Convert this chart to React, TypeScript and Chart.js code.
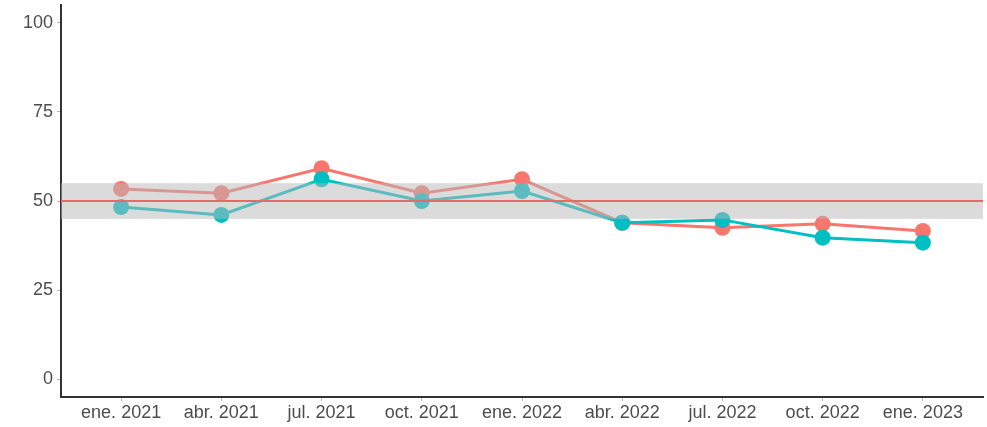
import React, { useEffect, useRef } from "react";
import { Chart, registerables } from "chart.js";

Chart.register(...registerables);

const categories = ["ene. 2021", "abr. 2021", "jul. 2021", "oct. 2021", "ene. 2022", "abr. 2022", "jul. 2022", "oct. 2022", "ene. 2023"];
const seriesRed = [53.4, 52.2, 59.2, 52.2, 56.1, 43.9, 42.5, 43.6, 41.6];
const seriesTeal = [48.3, 46.1, 56.1, 50.0, 52.8, 43.9, 44.7, 39.7, 38.3];
const yTicks = [0, 25, 50, 75, 100];
const bandLow = 45;
const bandHigh = 55;
const refLine = 50;

const RED = "#F8766D";
const TEAL = "#00BFC4";

const bandPlugin = {
  id: "band",
  afterDatasetsDraw(chart: any) {
    const { ctx, chartArea, scales } = chart;
    const y = scales.y;
    const yTop = y.getPixelForValue(bandHigh);
    const yBot = y.getPixelForValue(bandLow);
    ctx.save();
    ctx.fillStyle = "rgba(184,184,184,0.5)";
    ctx.fillRect(chartArea.left, yTop, chartArea.right - chartArea.left, yBot - yTop);
    const yr = y.getPixelForValue(refLine);
    ctx.strokeStyle = "#E56C66";
    ctx.lineWidth = 2;
    ctx.beginPath();
    ctx.moveTo(chartArea.left, yr);
    ctx.lineTo(chartArea.right, yr);
    ctx.stroke();
    ctx.restore();
  },
};

export default function App() {
  const ref = useRef<HTMLCanvasElement>(null);
  useEffect(() => {
    if (!ref.current) return;
    const pts = (arr: number[]) => arr.map((v, i) => ({ x: i, y: v }));
    const chart = new Chart(ref.current, {
      type: "line",
      data: {
        datasets: [
          { data: pts(seriesTeal), borderColor: TEAL, backgroundColor: TEAL, borderWidth: 0, pointRadius: 8, showLine: false, order: 0, clip: false },
          { data: pts(seriesRed), borderColor: RED, backgroundColor: RED, borderWidth: 0, pointRadius: 8, showLine: false, order: 1, clip: false },
          { data: pts(seriesTeal), borderColor: TEAL, backgroundColor: TEAL, borderWidth: 3, pointRadius: 0, tension: 0, order: 2 },
          { data: pts(seriesRed), borderColor: RED, backgroundColor: RED, borderWidth: 3, pointRadius: 0, tension: 0, order: 3 },
        ],
      },
      options: {
        animation: false,
        responsive: false,
        maintainAspectRatio: false,
        layout: { autoPadding: false, padding: { left: 0, right: 4, top: 5, bottom: 0 } },
        plugins: { legend: { display: false }, tooltip: { enabled: false } },
        scales: {
          x: {
            type: "linear",
            min: -0.6,
            max: 8.6,
            afterBuildTicks: (axis: any) => {
              axis.ticks = categories.map((_, i) => ({ value: i }));
            },
            afterFit: (axis: any) => {
              axis.height = 30;
              axis.paddingLeft = 0;
              axis.paddingRight = 0;
            },
            ticks: {
              callback: (v: any) => categories[Number(v)] ?? "",
              color: "#4D4D4D",
              font: { family: "Liberation Sans, Arial, sans-serif", size: 18 },
              padding: 1,
              maxRotation: 0,
              autoSkip: false,
            },
            grid: { display: true, drawOnChartArea: false, drawTicks: true, tickLength: 4, color: "#B5B5B5", lineWidth: 1 },
            border: { display: true, color: "#333333", width: 2 },
          },
          y: {
            type: "linear",
            min: -5,
            max: 105,
            afterBuildTicks: (axis: any) => {
              axis.ticks = yTicks.map((v) => ({ value: v }));
            },
            afterFit: (axis: any) => {
              axis.width = 61;
              axis.paddingTop = 0;
              axis.paddingBottom = 0;
            },
            ticks: {
              color: "#4D4D4D",
              font: { family: "Liberation Sans, Arial, sans-serif", size: 18 },
              padding: 4,
            },
            grid: { display: true, drawOnChartArea: false, drawTicks: true, tickLength: 4, color: "#B5B5B5", lineWidth: 1 },
            border: { display: true, color: "#333333", width: 2 },
          },
        },
      },
      plugins: [bandPlugin],
    });
    return () => chart.destroy();
  }, []);
  return (
    <div style={{ position: "fixed", left: 0, top: 0, width: 987, height: 427, background: "#fff" }}>
      <canvas ref={ref} width={987} height={427} style={{ width: 987, height: 427 }} />
    </div>
  );
}
